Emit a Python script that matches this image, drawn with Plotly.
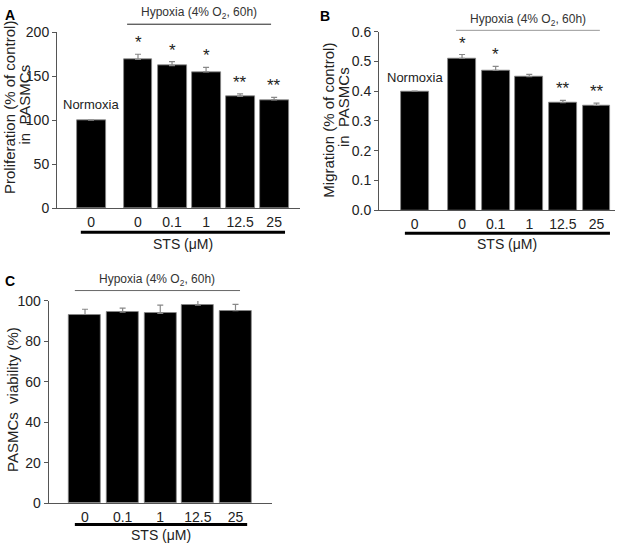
import plotly.graph_objects as go

# ---------------- data ----------------
A_labels = ["0", "0", "0.1", "1", "12.5", "25"]
A_prolif = [100, 169, 162, 155, 127, 123]
A_err = [0, 6, 4.5, 5, 3, 3]
A_sig = ["", "*", "*", "*", "**", "**"]

B_labels = ["0", "0", "0.1", "1", "12.5", "25"]
B_migr = [0.40, 0.51, 0.47, 0.449, 0.361, 0.352]
B_err = [0, 0.013, 0.013, 0.007, 0.008, 0.008]
B_sig = ["", "*", "*", "", "**", "**"]

C_labels = ["0", "0.1", "1", "12.5", "25"]
C_viab = [93.3, 94.4, 93.9, 97.9, 95.2]
C_err = [2.6, 2.0, 4.0, 3.7, 3.1]

# ---------------- layout helpers ----------------
W, H = 631, 551
def fx(px): return px / W
def fy(py): return 1 - py / H

A_pos = [-0.38, 1, 2, 3, 4, 5]
B_pos = [-0.41, 1, 2, 3, 4, 5]
C_pos = [1, 2, 3, 4, 5]

FONT = "Liberation Sans, Arial, sans-serif"
AX = "#555"
ERR = "#888"

fig = go.Figure()

def bars(pos, vals, errs, xa, ya, width):
    fig.add_trace(go.Bar(
        x=pos, y=vals, xaxis=xa, yaxis=ya, width=width,
        marker=dict(color="black", line=dict(color="#888", width=0.8)),
        error_y=dict(type="data", array=errs, arrayminus=[0]*len(errs), symmetric=False,
                     color=ERR, thickness=1.2, width=3),
        showlegend=False, hoverinfo="skip"))

bars(A_pos, A_prolif, A_err, "x", "y", 0.85)
bars(B_pos, B_migr, B_err, "x2", "y2", 0.83)
bars(C_pos, C_viab, C_err, "x3", "y3", 0.85)

xcommon = dict(showline=True, linecolor=AX, linewidth=1, ticks="", showgrid=False,
               zeroline=False, tickfont=dict(family=FONT, size=14, color="#222"),
               ticklabelstandoff=1, fixedrange=True)
ycommon = dict(showline=True, linecolor=AX, linewidth=1, ticks="outside", ticklen=4,
               tickcolor=AX, showgrid=False, zeroline=False,
               tickfont=dict(family=FONT, size=14, color="#222"), fixedrange=True)

fig.update_layout(
    width=W, height=H, margin=dict(l=0, r=0, t=0, b=0),
    paper_bgcolor="white", plot_bgcolor="white", bargap=0,
    font=dict(family=FONT, color="#222"),
    xaxis=dict(domain=[fx(57), fx(300)], range=[-1.38, 5.76], tickvals=A_pos, ticktext=A_labels,
               anchor="y", **xcommon),
    yaxis=dict(domain=[fy(206), fy(25)], range=[0, 200], dtick=50, anchor="x", **ycommon),
    xaxis2=dict(domain=[fx(379), fx(615)], range=[-1.47, 5.55], tickvals=B_pos, ticktext=B_labels,
                anchor="y2", **xcommon),
    yaxis2=dict(domain=[fy(208.3), fy(24.3)], range=[0, 0.6], dtick=0.1, tickformat=".1f",
                anchor="x2", **ycommon),
    xaxis3=dict(domain=[fx(48.7), fx(272)], range=[0.035, 5.97], tickvals=C_pos, ticktext=C_labels,
                anchor="y3", **xcommon),
    yaxis3=dict(domain=[fy(510), fy(301.7)], range=[0, 100], dtick=20, anchor="x3", **ycommon),
)

ann = []
shapes = []

# significance stars
def stars(pos, vals, errs, sig, xr, yr):
    for p, v, e, s in zip(pos, vals, errs, sig):
        if s:
            ann.append(dict(x=p, y=v + e, xref=xr, yref=yr, text=s, showarrow=False,
                            xanchor="center", yanchor="bottom", yshift=0,
                            font=dict(family=FONT, size=17, color="#222")))

stars(A_pos, A_prolif, A_err, A_sig, "x", "y")
stars(B_pos, B_migr, B_err, B_sig, "x2", "y2")

# Normoxia labels
ann.append(dict(x=A_pos[0], y=A_prolif[0], xref="x", yref="y", text="Normoxia", showarrow=False,
                xanchor="center", yanchor="bottom", yshift=6,
                font=dict(family=FONT, size=13, color="#222")))
ann.append(dict(x=B_pos[0], y=B_migr[0], xref="x2", yref="y2", text="Normoxia", showarrow=False,
                xanchor="center", yanchor="bottom", yshift=4,
                font=dict(family=FONT, size=13, color="#222")))

hyp = "Hypoxia (4% O<sub>2</sub>, 60h)"
# Hypoxia brackets: (xref, x0, x1, text y px, line y px, line color)
for xr, x0, x1, ty, ly, lc in [("x", 0.68, 4.91, 5, 16.7, "#222"),
                               ("x2", 0.82, 5.10, 12, 23, "#999"),
                               ("x3", 0.73, 5.12, 280, 291, "#666")]:
    shapes.append(dict(type="line", xref=xr, yref="paper", x0=x0, x1=x1, y0=fy(ly), y1=fy(ly),
                       line=dict(color=lc, width=1)))
    ann.append(dict(x=(x0 + x1) / 2, y=fy(ty), xref=xr, yref="paper", text=hyp, showarrow=False,
                    xanchor="center", yanchor="middle",
                    font=dict(family=FONT, size=12, color="#333")))

# STS bars and labels
for xr, x0, x1, ly, ty in [("x", -0.68, 5.32, 231, 243),
                           ("x2", -0.70, 5.40, 232, 243),
                           ("x3", 0.73, 5.31, 532, 543)]:
    shapes.append(dict(type="line", xref=xr, yref="paper", x0=x0, x1=x1, y0=fy(ly), y1=fy(ly),
                       line=dict(color="black", width=3)))
    ann.append(dict(x=(x0 + x1) / 2, y=fy(ty), xref=xr, yref="paper", text="STS (μM)",
                    showarrow=False, xanchor="center", yanchor="middle",
                    font=dict(family=FONT, size=14, color="#222")))

# y-axis titles (one annotation per line)
for x, y, t in [(9, 103, "Proliferation (% of control)"),
                (24.5, 100, "in  PASMCs"),
                (329, 115, "Migration (% of control)"),
                (343, 102, "in  PASMCs"),
                (12.7, 403, "PASMCs  viability (%)")]:
    ann.append(dict(x=fx(x), y=fy(y), xref="paper", yref="paper", text=t, textangle=-90,
                    showarrow=False, xanchor="center", yanchor="middle",
                    font=dict(family=FONT, size=15, color="#222")))

# panel letters
for x, y, t in [(3, 7, "A"), (318, 8, "B"), (3, 281, "C")]:
    ann.append(dict(x=fx(x), y=fy(y), xref="paper", yref="paper", text="<b>" + t + "</b>",
                    showarrow=False, xanchor="left", yanchor="middle",
                    font=dict(family=FONT, size=14, color="black")))

fig.update_layout(annotations=ann, shapes=shapes)
fig.write_html("out.html", config={"displayModeBar": False},
               post_script="document.body.style.margin='0';document.body.style.overflow='hidden';")
